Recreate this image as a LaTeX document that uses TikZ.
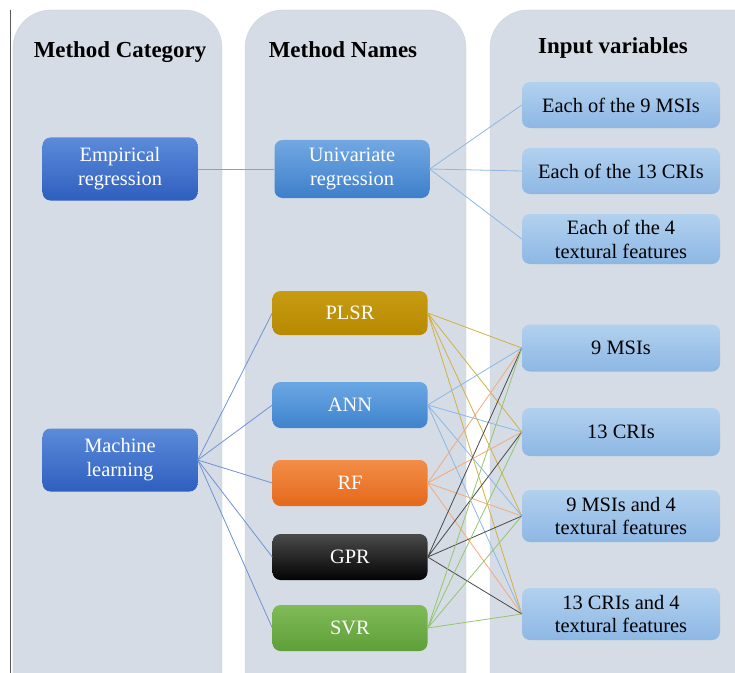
\documentclass[tikz,border=0pt]{standalone}
\usepackage{fontspec}
\setmainfont{Liberation Serif}
\usetikzlibrary{positioning}

\definecolor{colbg}{HTML}{D6DCE5}
\definecolor{colline}{HTML}{CCD2DB}
\definecolor{catTop}{HTML}{5B8BD9}
\definecolor{catBot}{HTML}{2F5FBF}
\definecolor{uniTop}{HTML}{72A8E2}
\definecolor{uniBot}{HTML}{3E7FCB}
\definecolor{plsrTop}{HTML}{C79C12}
\definecolor{plsrBot}{HTML}{B78900}
\definecolor{annTop}{HTML}{6BA7E4}
\definecolor{annBot}{HTML}{3F83CD}
\definecolor{rfTop}{HTML}{F38D48}
\definecolor{rfBot}{HTML}{E4691B}
\definecolor{gprTop}{HTML}{4A4A4A}
\definecolor{gprBot}{HTML}{030303}
\definecolor{svrTop}{HTML}{80BB58}
\definecolor{svrBot}{HTML}{5E9F39}
\definecolor{inTop}{HTML}{B2D1EF}
\definecolor{inBot}{HTML}{8DB7E4}
\definecolor{empline}{HTML}{7FA3D9}
\definecolor{mlline}{HTML}{6F93D4}

\begin{document}
\begin{tikzpicture}[x=1bp, y=-1bp]
  \tikzstyle{column} = [fill=colbg, draw=colline, rounded corners=38bp]
  \tikzstyle{header} = [font=\fontsize{23}{27}\selectfont\bfseries]
  \tikzstyle{box} = [rounded corners=8bp, minimum width=155bp, minimum height=46bp, align=center, inner sep=2bp, text=white, font=\fontsize{20.5}{24}\selectfont]
  \tikzstyle{catbox} = [box, top color=catTop, bottom color=catBot, minimum height=63bp]
  \tikzstyle{inbox} = [box, text=black, minimum width=198bp, top color=inTop, bottom color=inBot]
  \tikzstyle{link} = [line width=0.8bp]

  \useasboundingbox (0,0) rectangle (735,673);

  % columns
  \draw[column] (13,700) -- (13,10) -- (222,10) -- (222,700);
  \draw[column] (245,700) -- (245,10) -- (466,10) -- (466,700);
  \draw[column] (490,700) -- (490,10) -- (790,10) -- (790,700);
  \draw[gray!70!black, line width=0.8bp] (10,10) -- (10,673);

  \node[header] (hcat) at (120,52) {Method Category};
  \node[header] (hname) at (343,50) {Method Names};
  \node[header] (hinput) at (613,48) {Input variables};

  % method category
  \node[catbox] (emp) at (120,169) {Empirical\\regression};
  \node[catbox] (ml) at (120,460) {Machine\\learning};

  % method names
  \node[box, top color=uniTop, bottom color=uniBot, minimum height=58bp] (uni) at (352,169) {Univariate\\regression};
  \node[box, top color=plsrTop, bottom color=plsrBot, minimum height=44bp] (plsr) at (350,313) {PLSR};
  \node[box, top color=annTop, bottom color=annBot] (ann) at (350,405) {ANN};
  \node[box, top color=rfTop, bottom color=rfBot] (rf) at (350,483) {RF};
  \node[box, top color=gprTop, bottom color=gprBot] (gpr) at (350,557) {GPR};
  \node[box, top color=svrTop, bottom color=svrBot] (svr) at (350,628) {SVR};

  % input variables
  \node[inbox] (each1) at (621,105) {Each of the 9 MSIs};
  \node[inbox] (each2) at (621,171) {Each of the 13 CRIs};
  \node[inbox, minimum height=50bp] (each3) at (621,239) {Each of the 4\\textural features};
  \node[inbox, minimum height=47bp] (msi) at (621,348) {9 MSIs};
  \node[inbox, minimum height=48bp] (cri) at (621,432) {13 CRIs};
  \node[inbox, minimum height=52bp] (msitex) at (621,516) {9 MSIs and 4\\textural features};
  \node[inbox, minimum height=52bp] (critex) at (621,614) {13 CRIs and 4\\textural features};

  % connectors
  \draw[link, color=empline] (emp.east) to (uni.west);
  \draw[link, color=inBot] (uni.east) to (each1.west);
  \draw[link, color=inBot] (uni.east) to (each2.west);
  \draw[link, color=inBot] (uni.east) to (each3.west);

  \draw[link, color=mlline] (ml.east) to (plsr.west);
  \draw[link, color=mlline] (ml.east) to (ann.west);
  \draw[link, color=mlline] (ml.east) to (rf.west);
  \draw[link, color=mlline] (ml.east) to (gpr.west);
  \draw[link, color=mlline] (ml.east) to (svr.west);

  \draw[link, color=plsrTop!80] (plsr.east) to (msi.west) (plsr.east) to (cri.west)
    (plsr.east) to (msitex.west) (plsr.east) to (critex.west);
  \draw[link, color=annTop!80] (ann.east) to (msi.west) (ann.east) to (cri.west)
    (ann.east) to (msitex.west) (ann.east) to (critex.west);
  \draw[link, color=rfTop!75] (rf.east) to (msi.west) (rf.east) to (cri.west)
    (rf.east) to (msitex.west) (rf.east) to (critex.west);
  \draw[link, color=gprTop] (gpr.east) to (msi.west) (gpr.east) to (cri.west)
    (gpr.east) to (msitex.west) (gpr.east) to (critex.west);
  \draw[link, color=svrTop!85] (svr.east) to (msi.west) (svr.east) to (cri.west)
    (svr.east) to (msitex.west) (svr.east) to (critex.west);
\end{tikzpicture}
\end{document}
